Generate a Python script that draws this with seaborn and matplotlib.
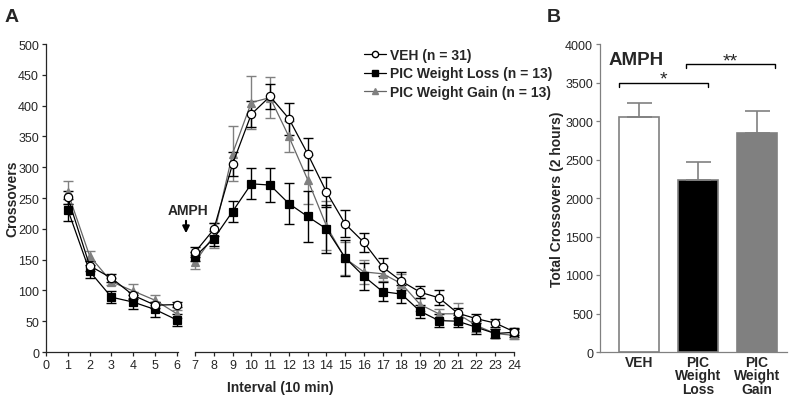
import numpy as np
import pandas as pd
import seaborn as sns
import matplotlib.pyplot as plt
from matplotlib.lines import Line2D

# Panel A data: crossovers per 10 min interval (mean, SEM)
intervals_pre = [1, 2, 3, 4, 5, 6]
intervals_post = [7, 8, 9, 10, 11, 12, 13, 14, 15, 16, 17, 18, 19, 20, 21, 22, 23, 24]

veh_mean = [251, 140, 120, 92, 76, 77,
            162, 199, 305, 386, 415, 379, 322, 260, 208, 178, 138, 115, 97, 88, 63, 54, 47, 33]
veh_sem = [10, 8, 7, 6, 5, 4,
           8, 10, 19, 21, 20, 26, 26, 24, 22, 15, 15, 15, 10, 12, 8, 7, 7, 5]
loss_mean = [231, 131, 89, 81, 69, 52,
             155, 184, 228, 273, 271, 241, 220, 200, 153, 123, 98, 94, 66, 51, 50, 40, 30, 32]
loss_sem = [18, 11, 10, 11, 12, 10,
            8, 12, 17, 25, 27, 34, 41, 39, 29, 22, 15, 14, 11, 10, 10, 10, 8, 7]
gain_mean = [259, 156, 114, 99, 84, 62,
             146, 189, 322, 405, 413, 350, 280, 205, 152, 130, 127, 111, 77, 62, 62, 43, 30, 27]
gain_sem = [18, 8, 6, 11, 8, 6,
            12, 20, 45, 43, 33, 25, 40, 40, 27, 20, 12, 15, 10, 8, 17, 10, 8, 6]

group_labels = ['VEH (n = 31)', 'PIC Weight Loss (n = 13)', 'PIC Weight Gain (n = 13)']

# Panel B data: total crossovers over 2 hours
bar_groups = ['VEH', 'PIC\nWeight\nLoss', 'PIC\nWeight\nGain']
bar_means = [3050, 2230, 2850]
bar_sems = [190, 240, 280]

sns.set_style("ticks")
plt.rcParams['font.family'] = ['Liberation Sans', 'DejaVu Sans']
plt.rcParams['axes.linewidth'] = 0.9

GRAY = '#808080'
styles = [
    dict(mean=veh_mean, sem=veh_sem, color='black', ecolor='black', marker='o', mfc='white', ms=6),
    dict(mean=loss_mean, sem=loss_sem, color='black', ecolor='black', marker='s', mfc='black', ms=5.5),
    dict(mean=gain_mean, sem=gain_sem, color='#666666', ecolor=GRAY, marker='^', mfc=GRAY, ms=5.5),
]

fig = plt.figure(figsize=(8, 4.02), dpi=100)
bottom, height = 1 - 353 / 402, 308 / 402
ax_pre = fig.add_axes([46 / 800, bottom, 132 / 800, height])
ax_post = fig.add_axes([195 / 800, bottom, 319 / 800, height])
ax_b = fig.add_axes([600 / 800, bottom, 187 / 800, height])

n_pre = len(intervals_pre)
# draw gain first, then loss, then VEH on top
for st in [styles[2], styles[1], styles[0]]:
    for ax, xs, sl in [(ax_pre, intervals_pre, slice(0, n_pre)),
                       (ax_post, intervals_post, slice(n_pre, None))]:
        ys = st['mean'][sl]
        es = st['sem'][sl]
        ax.errorbar(xs, ys, yerr=es, fmt='none', ecolor=st['ecolor'],
                    elinewidth=1.0, capsize=3.5, capthick=1.0, clip_on=False, zorder=2)
        sns.lineplot(x=xs, y=ys, ax=ax, color=st['color'], linewidth=0.9,
                     marker=st['marker'], markersize=st['ms'], markerfacecolor=st['mfc'],
                     markeredgecolor='black' if st['marker'] != '^' else GRAY,
                     markeredgewidth=0.9, clip_on=False, zorder=3)

for ax in [ax_pre, ax_post]:
    ax.set_ylim(0, 500)
    ax.set_xlabel('')
    ax.set_ylabel('')
    ax.tick_params(axis='both', labelsize=9, length=3, width=0.9, pad=2)
    for s in ['top', 'right']:
        ax.spines[s].set_visible(False)

ax_pre.set_xlim(0, 6.05)
ax_pre.set_xticks(range(0, 7))
ax_pre.set_yticks(range(0, 501, 50))
ax_pre.set_ylabel('Crossovers', fontsize=10, fontweight='bold')
ax_pre.yaxis.set_label_coords((19 - 46) / 132, 0.5)

ax_post.set_xlim(7, 24)
ax_post.set_xticks(range(7, 25))
ax_post.spines['left'].set_visible(False)
ax_post.tick_params(axis='y', left=False, labelleft=False)

# AMPH marker
ax_post.annotate('', xy=(186 / 800, 1 - 237 / 402), xytext=(186 / 800, 1 - 219 / 402),
                 xycoords='figure fraction', textcoords='figure fraction',
                 arrowprops=dict(arrowstyle='-|>', color='black', lw=1.5, mutation_scale=10))
fig.text(188 / 800, 1 - 211 / 402, 'AMPH', ha='center', va='center',
         fontsize=10, fontweight='bold')

fig.text(280 / 800, 1 - 388 / 402, 'Interval (10 min)', ha='center', va='center',
         fontsize=10, fontweight='bold')

handles = [Line2D([], [], color=st['color'], marker=st['marker'], mfc=st['mfc'],
                  mec='black' if st['marker'] != '^' else GRAY, ms=st['ms'] - 1.5, lw=0.9)
           for st in styles]
fig.legend(handles, group_labels, loc='upper left', bbox_to_anchor=(358 / 800, 1 - 43 / 402),
           frameon=False, prop=dict(size=10, weight='bold'), handlelength=1.6,
           handletextpad=0.3, labelspacing=0.35, borderaxespad=0)

# Panel B
bar_df = pd.DataFrame({'group': bar_groups, 'total': bar_means})
sns.barplot(data=bar_df, x='group', y='total', ax=ax_b, hue='group', legend=False,
            palette=['white', 'black', GRAY], edgecolor=GRAY, linewidth=1.2,
            width=0.68, errorbar=None)
ax_b.errorbar(range(3), bar_means, yerr=[[0, 0, 0], bar_sems], fmt='none',
              ecolor=GRAY, elinewidth=1.2, capsize=9, capthick=1.2, zorder=1)
ax_b.set_ylim(0, 4000)
ax_b.set_xlim(-0.66, 2.51)
ax_b.set_yticks(range(0, 4001, 500))
ax_b.set_xlabel('')
ax_b.set_ylabel('Total Crossovers (2 hours)', fontsize=10, fontweight='bold')
ax_b.yaxis.set_label_coords((564 - 600) / 187, 0.5)
ax_b.tick_params(axis='y', labelsize=9, length=3, width=0.9, color=GRAY, pad=2)
ax_b.tick_params(axis='x', length=0, labelsize=10, pad=2)
for lab in ax_b.get_xticklabels():
    lab.set_fontweight('bold')
    lab.set_linespacing(0.95)
for s in ['top', 'right']:
    ax_b.spines[s].set_visible(False)
for s in ['left', 'bottom']:
    ax_b.spines[s].set_color(GRAY)
ax_b.text(-0.52, 3800, 'AMPH', fontsize=13.5, fontweight='bold', va='center')

# significance brackets
def bracket(ax, x0, x1, y, label):
    ax.plot([x0, x0, x1, x1], [y - 55, y, y, y - 55], color='black', lw=1.0, clip_on=False)
    ax.text((x0 + x1) / 2, y - 70, label, ha='center', va='bottom', fontsize=14)

bracket(ax_b, -0.34, 1.17, 3500, '*')
bracket(ax_b, 0.8, 2.3, 3740, '**')

fig.text(12 / 800, 1 - 17 / 402, 'A', fontsize=14, fontweight='bold', ha='center', va='center')
fig.text(554 / 800, 1 - 17 / 402, 'B', fontsize=14, fontweight='bold', ha='center', va='center')

fig.savefig('out.png', dpi=100)
